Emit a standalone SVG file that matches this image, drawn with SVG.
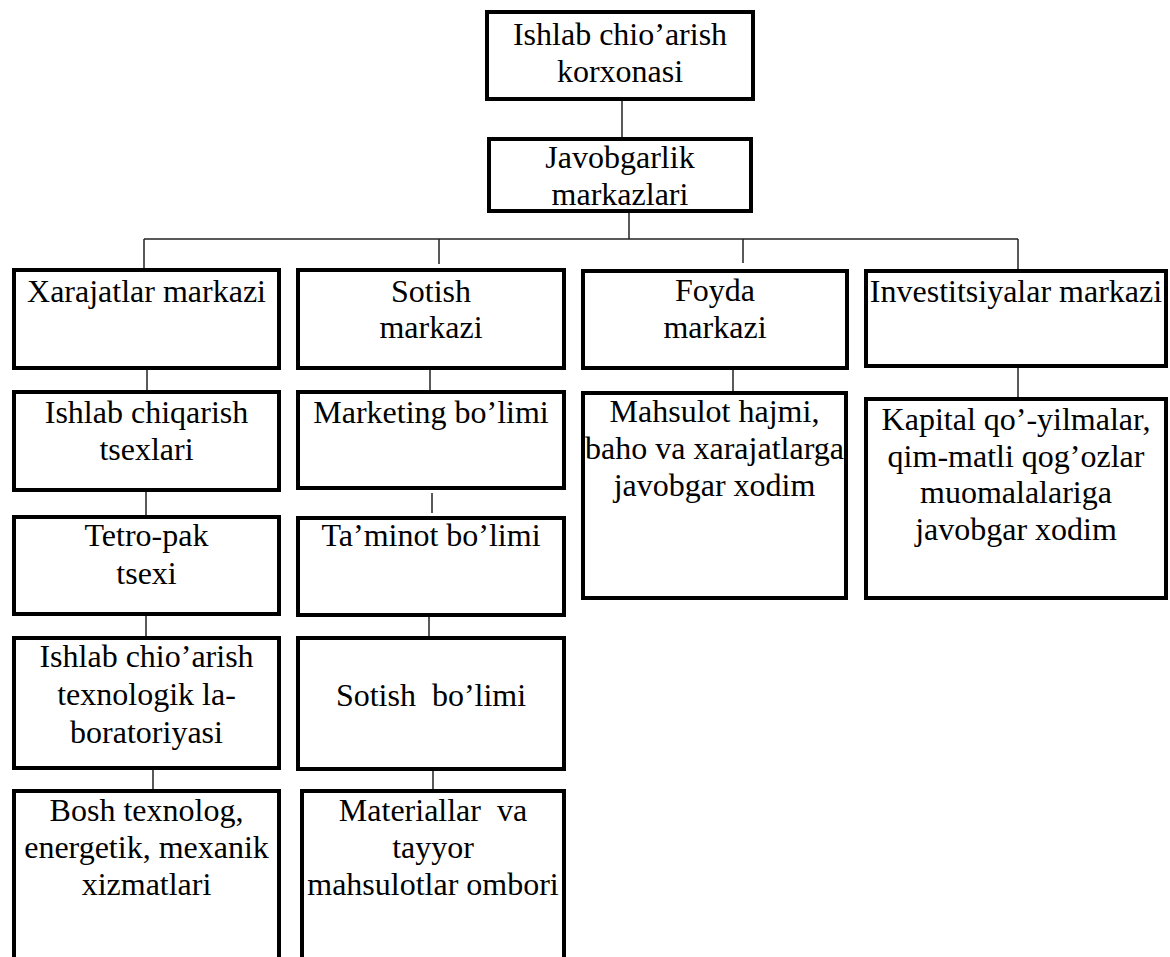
<svg xmlns="http://www.w3.org/2000/svg" width="1170" height="957" viewBox="0 0 1170 957">
<style>
.box{fill:#fff;stroke:#000;stroke-width:4}
.t{font-family:"Liberation Serif",serif;font-size:32px;fill:#000;text-anchor:middle}
.c line{stroke:#222;stroke-width:1.5}
</style>
<rect width="1170" height="957" fill="#fff"/>
<g class="c" id="connectors">
<line x1="622" y1="101" x2="622" y2="137"/>
<line x1="629" y1="213" x2="629" y2="239"/>
<line x1="144" y1="239" x2="1018" y2="239"/>
<line x1="144" y1="239" x2="144" y2="268"/>
<line x1="439" y1="239" x2="439" y2="264"/>
<line x1="743" y1="239" x2="743" y2="263"/>
<line x1="1018" y1="239" x2="1018" y2="269"/>
<line x1="147" y1="370" x2="147" y2="390"/>
<line x1="146" y1="492" x2="146" y2="515"/>
<line x1="146" y1="616" x2="146" y2="636"/>
<line x1="153" y1="770" x2="153" y2="789"/>
<line x1="430" y1="370" x2="430" y2="390"/>
<line x1="432" y1="493" x2="432" y2="513"/>
<line x1="429" y1="617" x2="429" y2="636"/>
<line x1="433" y1="771" x2="433" y2="789"/>
<line x1="733" y1="370" x2="733" y2="391"/>
<line x1="1018" y1="368" x2="1018" y2="397"/>
</g>
<g id="korxona">
<rect class="box" x="487" y="12" width="266" height="87"/>
<text class="t" x="620" y="45">Ishlab chio’arish</text>
<text class="t" x="620" y="82">korxonasi</text>
</g>
<g id="javobgarlik">
<rect class="box" x="489" y="139" width="262" height="72"/>
<text class="t" x="620" y="168">Javobgarlik</text>
<text class="t" x="620" y="205">markazlari</text>
</g>
<g id="xarajatlar">
<rect class="box" x="14" y="270" width="265" height="98"/>
<text class="t" x="146.5" y="302">Xarajatlar markazi</text>
</g>
<g id="sotish-markazi">
<rect class="box" x="298" y="270" width="266" height="98"/>
<text class="t" x="431" y="302">Sotish</text>
<text class="t" x="431" y="338">markazi</text>
</g>
<g id="foyda">
<rect class="box" x="583" y="271" width="264" height="97"/>
<text class="t" x="715" y="301">Foyda</text>
<text class="t" x="715" y="338">markazi</text>
</g>
<g id="investitsiyalar">
<rect class="box" x="866" y="271" width="300" height="95"/>
<text class="t" x="1016" y="302">Investitsiyalar markazi</text>
</g>
<g id="ishlab-tsexlari">
<rect class="box" x="14" y="392" width="265" height="98"/>
<text class="t" x="146.5" y="423">Ishlab chiqarish</text>
<text class="t" x="146.5" y="460">tsexlari</text>
</g>
<g id="marketing">
<rect class="box" x="298" y="392" width="266" height="96"/>
<text class="t" x="431" y="423">Marketing bo’limi</text>
</g>
<g id="tetro-pak">
<rect class="box" x="14" y="517" width="265" height="97"/>
<text class="t" x="146.5" y="546">Tetro-pak</text>
<text class="t" x="146.5" y="584">tsexi</text>
</g>
<g id="taminot">
<rect class="box" x="298" y="518" width="266" height="97"/>
<text class="t" x="431" y="546">Ta’minot bo’limi</text>
</g>
<g id="laboratoriya">
<rect class="box" x="14" y="638" width="265" height="130"/>
<text class="t" x="146.5" y="667">Ishlab chio’arish</text>
<text class="t" x="146.5" y="705">texnologik la-</text>
<text class="t" x="146.5" y="743">boratoriyasi</text>
</g>
<g id="sotish-bolimi">
<rect class="box" x="298" y="638" width="266" height="131"/>
<text class="t" x="431" y="706">Sotish&#160; bo’limi</text>
</g>
<g id="bosh-texnolog">
<rect class="box" x="14" y="791" width="265" height="200"/>
<text class="t" x="146.5" y="821">Bosh texnolog,</text>
<text class="t" x="146.5" y="858">energetik, mexanik</text>
<text class="t" x="146.5" y="895">xizmatlari</text>
</g>
<g id="materiallar">
<rect class="box" x="302" y="791" width="262" height="200"/>
<text class="t" x="433" y="821">Materiallar&#160; va</text>
<text class="t" x="433" y="858">tayyor</text>
<text class="t" x="433" y="895">mahsulotlar ombori</text>
</g>
<g id="mahsulot">
<rect class="box" x="583" y="393" width="263" height="205"/>
<text class="t" x="714.5" y="422">Mahsulot hajmi,</text>
<text class="t" x="714.5" y="459">baho va xarajatlarga</text>
<text class="t" x="714.5" y="496">javobgar xodim</text>
</g>
<g id="kapital">
<rect class="box" x="866" y="399" width="300" height="199"/>
<text class="t" x="1016" y="430">Kapital qo’-yilmalar,</text>
<text class="t" x="1016" y="467">qim-matli qog’ozlar</text>
<text class="t" x="1016" y="503">muomalalariga</text>
<text class="t" x="1016" y="540">javobgar xodim</text>
</g>
</svg>
